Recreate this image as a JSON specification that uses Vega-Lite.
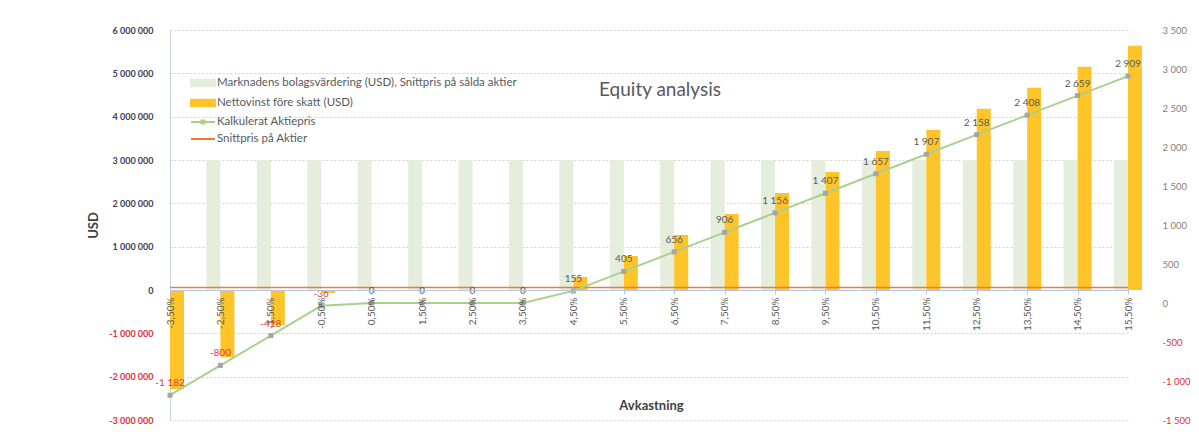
{
  "$schema": "https://vega.github.io/schema/vega-lite/v6.json",
  "width": 980,
  "height": 390,
  "autosize": "none",
  "padding": {"left": 170, "top": 30, "right": 49, "bottom": 21},
  "background": "white",
  "config": {
    "font": "Lato",
    "view": {"stroke": null},
    "locale": {"number": {"decimal": ",", "thousands": " ", "grouping": [3], "currency": ["", ""], "minus": "-"}}
  },
  "title": {"text": "Equity analysis", "fontSize": 19, "fontWeight": "normal", "color": "#595959", "offset": -75, "anchor": "middle"},
  "data": {"values": [
    {"avk": "-3,50%", "mv": 3000000, "np": -2290000, "price": -1182, "snitt": 200},
    {"avk": "-2,50%", "mv": 3000000, "np": -1550000, "price": -800, "snitt": 200},
    {"avk": "-1,50%", "mv": 3000000, "np": -810000, "price": -418, "snitt": 200},
    {"avk": "-0,50%", "mv": 3000000, "np": -70000, "price": -36, "snitt": 200},
    {"avk": "0,50%", "mv": 3000000, "np": 0, "price": 0, "snitt": 200},
    {"avk": "1,50%", "mv": 3000000, "np": 0, "price": 0, "snitt": 200},
    {"avk": "2,50%", "mv": 3000000, "np": 0, "price": 0, "snitt": 200},
    {"avk": "3,50%", "mv": 3000000, "np": 0, "price": 0, "snitt": 200},
    {"avk": "4,50%", "mv": 3000000, "np": 300000, "price": 155, "snitt": 200},
    {"avk": "5,50%", "mv": 3000000, "np": 785000, "price": 405, "snitt": 200},
    {"avk": "6,50%", "mv": 3000000, "np": 1270000, "price": 656, "snitt": 200},
    {"avk": "7,50%", "mv": 3000000, "np": 1755000, "price": 906, "snitt": 200},
    {"avk": "8,50%", "mv": 3000000, "np": 2240000, "price": 1156, "snitt": 200},
    {"avk": "9,50%", "mv": 3000000, "np": 2725000, "price": 1407, "snitt": 200},
    {"avk": "10,50%", "mv": 3000000, "np": 3210000, "price": 1657, "snitt": 200},
    {"avk": "11,50%", "mv": 3000000, "np": 3695000, "price": 1907, "snitt": 200},
    {"avk": "12,50%", "mv": 3000000, "np": 4180000, "price": 2158, "snitt": 200},
    {"avk": "13,50%", "mv": 3000000, "np": 4665000, "price": 2408, "snitt": 200},
    {"avk": "14,50%", "mv": 3000000, "np": 5150000, "price": 2659, "snitt": 200},
    {"avk": "15,50%", "mv": 3000000, "np": 5635000, "price": 2909, "snitt": 200}
  ]},
  "encoding": {
    "x": {
      "field": "avk", "type": "nominal", "sort": null,
      "scale": {"type": "point", "range": [0, 958], "padding": 0},
      "axis": {
        "title": "Avkastning", "titleFontSize": 13, "titleFontWeight": "bold", "titleColor": "#404040",
        "titleY": 115, "titleX": 481, "titleBaseline": "middle",
        "offset": -130, "labelAngle": 270, "labelFontSize": 10, "labelColor": "#595959", "labelPadding": 3,
        "domainColor": "#b4c7e7", "tickColor": "#b4c7e7", "tickSize": 4, "grid": false, "labelOverlap": false,
        "zindex": 1
      }
    }
  },
  "layer": [
    {
      "layer": [
        {
          "mark": {"type": "bar", "width": 14, "xOffset": -7, "clip": true},
          "encoding": {
            "y": {"field": "mv", "type": "quantitative",
              "scale": {"domain": [-3000000, 6000000], "nice": false, "zero": false},
              "axis": {
                "title": "USD", "titleFontSize": 13, "titleFontWeight": "bold", "titleColor": "#404040", "titlePadding": 8,
                "values": [-3000000, -2000000, -1000000, 0, 1000000, 2000000, 3000000, 4000000, 5000000, 6000000],
                "format": ",.0f", "labelFontSize": 9, "labelFontWeight": "bold",
                "labelColor": {"condition": {"test": "datum.value < 0", "value": "#e0303c"}, "value": "#3a4059"},
                "labelPadding": 17, "ticks": false, "domainColor": "#c5d0e0",
                "grid": true, "gridColor": "#d0d0d0", "gridDash": [2, 2]
              }
            },
            "color": {
              "datum": "Marknadens bolagsvärdering (USD),  Snittpris på sålda aktier",
              "scale": {
                "domain": ["Marknadens bolagsvärdering (USD),  Snittpris på sålda aktier", "Nettovinst före skatt (USD)", "Kalkulerat Aktiepris", "Snittpris på Aktier"],
                "range": ["#e5eedc", "#fec42a", "#a9d18e", "#ed7d31"]
              },
              "legend": {
                "title": null, "orient": "none", "legendX": 26, "legendY": 46,
                "labelFontSize": 11.5, "labelColor": "#595959", "labelLimit": 0, "rowPadding": 4, "padding": 0,
                "labelOffset": 7,
                "symbolSize": 144,
                "encode": {
                  "symbols": {
                    "update": {
                      "shape": {"signal": "datum.label == 'Kalkulerat Aktiepris' ? 'M-2,0H-0.3M0.3,0H2M-0.26,-0.26H0.26V0.26H-0.26Z' : datum.label == 'Snittpris på Aktier' ? 'M-2,0H2' : 'M-2,-0.55H2V0.55H-2Z'"},
                      "fill": {"signal": "datum.label == 'Kalkulerat Aktiepris' ? '#a5a5a5' : datum.label == 'Snittpris på Aktier' ? 'transparent' : datum.label == 'Nettovinst före skatt (USD)' ? '#fec42a' : '#e5eedc'"},
                      "stroke": {"signal": "datum.label == 'Kalkulerat Aktiepris' ? '#a9d18e' : datum.label == 'Snittpris på Aktier' ? '#ed7d31' : 'transparent'"},
                      "strokeWidth": {"value": 2},
                      "size": {"value": 144},
                      "opacity": {"value": 1}
                    }
                  }
                }
              }
            }
          }
        },
        {
          "mark": {"type": "bar", "width": 14, "xOffset": 7},
          "encoding": {
            "y": {"field": "np", "type": "quantitative",
              "axis": {
                "title": "USD", "titleFontSize": 13, "titleFontWeight": "bold", "titleColor": "#404040", "titlePadding": 8,
                "values": [-3000000, -2000000, -1000000, 0, 1000000, 2000000, 3000000, 4000000, 5000000, 6000000],
                "format": ",.0f", "labelFontSize": 9, "labelFontWeight": "bold",
                "labelColor": {"condition": {"test": "datum.value < 0", "value": "#e0303c"}, "value": "#3a4059"},
                "labelPadding": 17, "ticks": false, "domainColor": "#c5d0e0",
                "grid": true, "gridColor": "#d0d0d0", "gridDash": [2, 2]
              }
            },
            "color": {"datum": "Nettovinst före skatt (USD)"}
          }
        }
      ]
    },
    {
      "layer": [
        {
          "mark": {"type": "line", "strokeWidth": 1.5},
          "encoding": {
            "y": {"field": "snitt", "type": "quantitative",
              "scale": {"domain": [-1500, 3500], "nice": false, "zero": false},
              "axis": {
                "orient": "right", "title": null,
                "values": [-1500, -1000, -500, 0, 500, 1000, 1500, 2000, 2500, 3000, 3500],
                "format": ",.0f", "labelFontSize": 9.5,
                "labelColor": {"condition": {"test": "datum.value < 0", "value": "#e0303c"}, "value": "#7f7f7f"},
                "labelPadding": 12, "ticks": false, "domain": false, "grid": false
              }
            },
            "color": {"datum": "Snittpris på Aktier"}
          }
        },
        {
          "mark": {"type": "line", "strokeWidth": 2},
          "encoding": {
            "y": {"field": "price", "type": "quantitative",
              "axis": {
                "orient": "right", "title": null,
                "values": [-1500, -1000, -500, 0, 500, 1000, 1500, 2000, 2500, 3000, 3500],
                "format": ",.0f", "labelFontSize": 9.5,
                "labelColor": {"condition": {"test": "datum.value < 0", "value": "#e0303c"}, "value": "#7f7f7f"},
                "labelPadding": 12, "ticks": false, "domain": false, "grid": false
              }
            },
            "color": {"datum": "Kalkulerat Aktiepris"}
          }
        },
        {
          "mark": {"type": "point", "shape": "square", "filled": true, "size": 25, "color": "#a5a5a5", "opacity": 1},
          "encoding": {"y": {"field": "price", "type": "quantitative",
              "axis": {
                "orient": "right", "title": null,
                "values": [-1500, -1000, -500, 0, 500, 1000, 1500, 2000, 2500, 3000, 3500],
                "format": ",.0f", "labelFontSize": 9.5,
                "labelColor": {"condition": {"test": "datum.value < 0", "value": "#e0303c"}, "value": "#7f7f7f"},
                "labelPadding": 12, "ticks": false, "domain": false, "grid": false
              }}}
        },
        {
          "mark": {"type": "text", "dy": -12, "fontSize": 10},
          "encoding": {
            "y": {"field": "price", "type": "quantitative",
              "axis": {
                "orient": "right", "title": null,
                "values": [-1500, -1000, -500, 0, 500, 1000, 1500, 2000, 2500, 3000, 3500],
                "format": ",.0f", "labelFontSize": 9.5,
                "labelColor": {"condition": {"test": "datum.value < 0", "value": "#e0303c"}, "value": "#7f7f7f"},
                "labelPadding": 12, "ticks": false, "domain": false, "grid": false
              }},
            "text": {"field": "price", "type": "quantitative", "format": ","},
            "color": {"condition": {"test": "datum.price < 0", "value": "#e0403c"}, "value": "#595959"}
          }
        }
      ]
    }
  ],
  "resolve": {"scale": {"y": "independent"}}
}
